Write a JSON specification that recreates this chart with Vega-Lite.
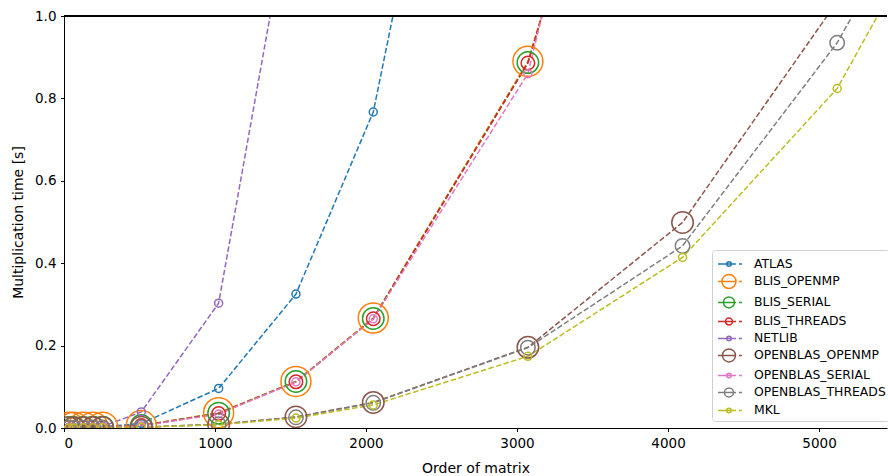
{
  "$schema": "https://vega.github.io/schema/vega-lite/v6.json",
  "width": 823,
  "height": 412,
  "autosize": {"type": "none"},
  "padding": {"left": 64, "top": 16, "right": 1, "bottom": 48},
  "config": {
    "font": "DejaVu Sans",
    "view": {"stroke": null},
    "axis": {
      "grid": false,
      "domainColor": "#000000",
      "domainWidth": 1,
      "tickColor": "#000000",
      "tickWidth": 1,
      "tickSize": 3.5,
      "labelFont": "DejaVu Sans",
      "labelFontSize": 13.5,
      "labelColor": "#000000",
      "labelPadding": 4.5,
      "titleFont": "DejaVu Sans",
      "titleFontSize": 14,
      "titleFontWeight": "normal",
      "titleColor": "#000000"
    }
  },
  "data": {
    "values": [
      {"s": "ATLAS", "n": 32, "t": 0.0005},
      {"s": "ATLAS", "n": 64, "t": 0.001},
      {"s": "ATLAS", "n": 128, "t": 0.001},
      {"s": "ATLAS", "n": 192, "t": 0.002},
      {"s": "ATLAS", "n": 256, "t": 0.003},
      {"s": "ATLAS", "n": 512, "t": 0.011},
      {"s": "ATLAS", "n": 1024, "t": 0.096},
      {"s": "ATLAS", "n": 1536, "t": 0.325},
      {"s": "ATLAS", "n": 2048, "t": 0.767},
      {"s": "ATLAS", "n": 3072, "t": 2.6},
      {"s": "BLIS_OPENMP", "n": 32, "t": 0.002},
      {"s": "BLIS_OPENMP", "n": 64, "t": 0.002},
      {"s": "BLIS_OPENMP", "n": 128, "t": 0.002},
      {"s": "BLIS_OPENMP", "n": 192, "t": 0.002},
      {"s": "BLIS_OPENMP", "n": 256, "t": 0.002},
      {"s": "BLIS_OPENMP", "n": 512, "t": 0.006},
      {"s": "BLIS_OPENMP", "n": 1024, "t": 0.037},
      {"s": "BLIS_OPENMP", "n": 1536, "t": 0.113},
      {"s": "BLIS_OPENMP", "n": 2048, "t": 0.267},
      {"s": "BLIS_OPENMP", "n": 3072, "t": 0.890},
      {"s": "BLIS_OPENMP", "n": 4096, "t": 2.13},
      {"s": "BLIS_SERIAL", "n": 32, "t": 0.001},
      {"s": "BLIS_SERIAL", "n": 64, "t": 0.001},
      {"s": "BLIS_SERIAL", "n": 128, "t": 0.001},
      {"s": "BLIS_SERIAL", "n": 192, "t": 0.002},
      {"s": "BLIS_SERIAL", "n": 256, "t": 0.002},
      {"s": "BLIS_SERIAL", "n": 512, "t": 0.006},
      {"s": "BLIS_SERIAL", "n": 1024, "t": 0.036},
      {"s": "BLIS_SERIAL", "n": 1536, "t": 0.113},
      {"s": "BLIS_SERIAL", "n": 2048, "t": 0.266},
      {"s": "BLIS_SERIAL", "n": 3072, "t": 0.887},
      {"s": "BLIS_SERIAL", "n": 4096, "t": 2.12},
      {"s": "BLIS_THREADS", "n": 32, "t": 0.001},
      {"s": "BLIS_THREADS", "n": 64, "t": 0.001},
      {"s": "BLIS_THREADS", "n": 128, "t": 0.001},
      {"s": "BLIS_THREADS", "n": 192, "t": 0.002},
      {"s": "BLIS_THREADS", "n": 256, "t": 0.002},
      {"s": "BLIS_THREADS", "n": 512, "t": 0.006},
      {"s": "BLIS_THREADS", "n": 1024, "t": 0.035},
      {"s": "BLIS_THREADS", "n": 1536, "t": 0.112},
      {"s": "BLIS_THREADS", "n": 2048, "t": 0.265},
      {"s": "BLIS_THREADS", "n": 3072, "t": 0.886},
      {"s": "BLIS_THREADS", "n": 4096, "t": 2.15},
      {"s": "NETLIB", "n": 32, "t": 0.0005},
      {"s": "NETLIB", "n": 64, "t": 0.001},
      {"s": "NETLIB", "n": 128, "t": 0.001},
      {"s": "NETLIB", "n": 192, "t": 0.002},
      {"s": "NETLIB", "n": 256, "t": 0.004},
      {"s": "NETLIB", "n": 512, "t": 0.039},
      {"s": "NETLIB", "n": 1024, "t": 0.303},
      {"s": "NETLIB", "n": 1536, "t": 1.35},
      {"s": "OPENBLAS_OPENMP", "n": 32, "t": 0.0005},
      {"s": "OPENBLAS_OPENMP", "n": 64, "t": 0.0005},
      {"s": "OPENBLAS_OPENMP", "n": 128, "t": 0.0005},
      {"s": "OPENBLAS_OPENMP", "n": 192, "t": 0.001},
      {"s": "OPENBLAS_OPENMP", "n": 256, "t": 0.001},
      {"s": "OPENBLAS_OPENMP", "n": 512, "t": 0.002},
      {"s": "OPENBLAS_OPENMP", "n": 1024, "t": 0.009},
      {"s": "OPENBLAS_OPENMP", "n": 1536, "t": 0.027},
      {"s": "OPENBLAS_OPENMP", "n": 2048, "t": 0.062},
      {"s": "OPENBLAS_OPENMP", "n": 3072, "t": 0.196},
      {"s": "OPENBLAS_OPENMP", "n": 4096, "t": 0.499},
      {"s": "OPENBLAS_OPENMP", "n": 5120, "t": 1.035},
      {"s": "OPENBLAS_SERIAL", "n": 32, "t": 0.001},
      {"s": "OPENBLAS_SERIAL", "n": 64, "t": 0.001},
      {"s": "OPENBLAS_SERIAL", "n": 128, "t": 0.001},
      {"s": "OPENBLAS_SERIAL", "n": 192, "t": 0.002},
      {"s": "OPENBLAS_SERIAL", "n": 256, "t": 0.002},
      {"s": "OPENBLAS_SERIAL", "n": 512, "t": 0.005},
      {"s": "OPENBLAS_SERIAL", "n": 1024, "t": 0.034},
      {"s": "OPENBLAS_SERIAL", "n": 1536, "t": 0.112},
      {"s": "OPENBLAS_SERIAL", "n": 2048, "t": 0.265},
      {"s": "OPENBLAS_SERIAL", "n": 3072, "t": 0.860},
      {"s": "OPENBLAS_SERIAL", "n": 4096, "t": 2.4},
      {"s": "OPENBLAS_THREADS", "n": 32, "t": 0.0005},
      {"s": "OPENBLAS_THREADS", "n": 64, "t": 0.0005},
      {"s": "OPENBLAS_THREADS", "n": 128, "t": 0.0005},
      {"s": "OPENBLAS_THREADS", "n": 192, "t": 0.001},
      {"s": "OPENBLAS_THREADS", "n": 256, "t": 0.001},
      {"s": "OPENBLAS_THREADS", "n": 512, "t": 0.002},
      {"s": "OPENBLAS_THREADS", "n": 1024, "t": 0.009},
      {"s": "OPENBLAS_THREADS", "n": 1536, "t": 0.026},
      {"s": "OPENBLAS_THREADS", "n": 2048, "t": 0.061},
      {"s": "OPENBLAS_THREADS", "n": 3072, "t": 0.195},
      {"s": "OPENBLAS_THREADS", "n": 4096, "t": 0.442},
      {"s": "OPENBLAS_THREADS", "n": 5120, "t": 0.935},
      {"s": "OPENBLAS_THREADS", "n": 6144, "t": 1.60},
      {"s": "MKL", "n": 32, "t": 0.0003},
      {"s": "MKL", "n": 64, "t": 0.0003},
      {"s": "MKL", "n": 128, "t": 0.0005},
      {"s": "MKL", "n": 192, "t": 0.0008},
      {"s": "MKL", "n": 256, "t": 0.001},
      {"s": "MKL", "n": 512, "t": 0.002},
      {"s": "MKL", "n": 1024, "t": 0.008},
      {"s": "MKL", "n": 1536, "t": 0.024},
      {"s": "MKL", "n": 2048, "t": 0.056},
      {"s": "MKL", "n": 3072, "t": 0.174},
      {"s": "MKL", "n": 4096, "t": 0.414},
      {"s": "MKL", "n": 5120, "t": 0.824},
      {"s": "MKL", "n": 6144, "t": 1.50}
    ]
  },
  "layer": [
    {
      "encoding": {
        "x": {
          "field": "n",
          "type": "quantitative",
          "title": "Order of matrix",
          "scale": {"domain": [0, 5450], "nice": false, "zero": false},
          "axis": {"values": [0, 1000, 2000, 3000, 4000, 5000], "format": "d", "titlePadding": 12}
        },
        "y": {
          "field": "t",
          "type": "quantitative",
          "title": "Multiplication time [s]",
          "scale": {"domain": [0, 1], "nice": false},
          "axis": {"values": [0, 0.2, 0.4, 0.6, 0.8, 1.0], "format": ".1f", "titlePadding": 9}
        },
        "color": {
          "field": "s",
          "type": "nominal",
          "scale": {
            "domain": ["ATLAS", "BLIS_OPENMP", "BLIS_SERIAL", "BLIS_THREADS", "NETLIB", "OPENBLAS_OPENMP", "OPENBLAS_SERIAL", "OPENBLAS_THREADS", "MKL"],
            "range": ["#1f77b4", "#ff7f0e", "#2ca02c", "#d62728", "#9467bd", "#8c564b", "#e377c2", "#7f7f7f", "#bcbd22"]
          },
          "legend": {
            "title": null,
            "orient": "none",
            "legendX": 648,
            "legendY": 234,
            "fillColor": "#ffffff",
            "strokeColor": "#d0d0d0",
            "cornerRadius": 3,
            "padding": 4,
            "rowPadding": -0.6,
            "symbolSize": 324,
            "symbolStrokeWidth": 1.5,
            "symbolOpacity": 1,
            "symbolDash": [],
            "labelOffset": 18,
            "labelFont": "DejaVu Sans",
            "labelFontSize": 12.4,
            "labelColor": "#000000"
          }
        }
      },
      "layer": [
        {
          "mark": {"type": "point", "filled": false, "strokeWidth": 1.5, "opacity": 0, "clip": true},
          "encoding": {
            "shape": {
              "field": "s",
              "type": "nominal",
              "scale": {
                "domain": ["ATLAS", "BLIS_OPENMP", "BLIS_SERIAL", "BLIS_THREADS", "NETLIB", "OPENBLAS_OPENMP", "OPENBLAS_SERIAL", "OPENBLAS_THREADS", "MKL"],
                "range": [
                  "M-0.89,0L1.11,0M1.44,0L1.78,0M0.58,0A0.25,0.25,0,1,1,0.08,0A0.25,0.25,0,1,1,0.58,0Z",
                  "M-0.89,0L1.11,0M1.44,0L1.78,0M1.11,0A0.78,0.78,0,1,1,-0.45,0A0.78,0.78,0,1,1,1.11,0Z",
                  "M-0.89,0L1.11,0M1.44,0L1.78,0M0.94,0A0.61,0.61,0,1,1,-0.28,0A0.61,0.61,0,1,1,0.94,0Z",
                  "M-0.89,0L1.11,0M1.44,0L1.78,0M0.72,0A0.39,0.39,0,1,1,-0.06,0A0.39,0.39,0,1,1,0.72,0Z",
                  "M-0.89,0L1.11,0M1.44,0L1.78,0M0.58,0A0.25,0.25,0,1,1,0.08,0A0.25,0.25,0,1,1,0.58,0Z",
                  "M-0.89,0L1.11,0M1.44,0L1.78,0M1.05,0A0.72,0.72,0,1,1,-0.39,0A0.72,0.72,0,1,1,1.05,0Z",
                  "M-0.89,0L1.11,0M1.44,0L1.78,0M0.58,0A0.25,0.25,0,1,1,0.08,0A0.25,0.25,0,1,1,0.58,0Z",
                  "M-0.89,0L1.11,0M1.44,0L1.78,0M0.83,0A0.5,0.5,0,1,1,-0.17,0A0.5,0.5,0,1,1,0.83,0Z",
                  "M-0.89,0L1.11,0M1.44,0L1.78,0M0.58,0A0.25,0.25,0,1,1,0.08,0A0.25,0.25,0,1,1,0.58,0Z"
                ]
              },
              "legend": {
                "title": null,
                "orient": "none",
                "legendX": 648,
                "legendY": 234,
                "fillColor": "#ffffff",
                "strokeColor": "#d0d0d0",
                "cornerRadius": 3,
                "padding": 4,
                "rowPadding": -0.6,
                "symbolSize": 324,
                "symbolStrokeWidth": 1.5,
                "symbolOpacity": 1,
                "symbolDash": [],
                "labelOffset": 18,
                "labelFont": "DejaVu Sans",
                "labelFontSize": 12.4,
                "labelColor": "#000000"
              }
            }
          }
        },
        {
          "mark": {"type": "line", "strokeWidth": 1.5, "strokeDash": [5.5, 2.4], "clip": true}
        },
        {
          "mark": {"type": "point", "filled": false, "strokeWidth": 1.5, "opacity": 1, "clip": true},
          "encoding": {
            "size": {
              "condition": [
                {"test": "datum.s === 'BLIS_OPENMP'", "value": 900},
                {"test": "datum.s === 'BLIS_SERIAL' || datum.s === 'OPENBLAS_OPENMP'", "value": 462},
                {"test": "datum.s === 'BLIS_THREADS'", "value": 182},
                {"test": "datum.s === 'OPENBLAS_THREADS'", "value": 210}
              ],
              "value": 64
            }
          }
        }
      ]
    },
    {
      "mark": {"type": "rule", "color": "#000000", "strokeWidth": 1},
      "encoding": {"y": {"datum": 1}}
    }
  ]
}
